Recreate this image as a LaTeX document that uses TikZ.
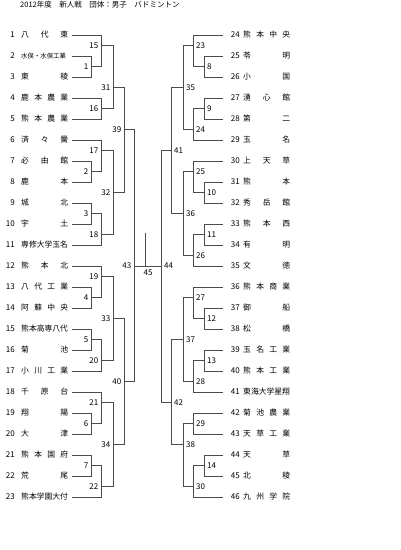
\documentclass[tikz,border=0pt]{standalone}
\usepackage{fontspec}
\setmainfont{Noto Sans CJK JP}

\newcommand*{\namebox}[1]{\makebox[47pt][s]{\spaceskip=0pt plus 1fil #1}}
\newcommand*{\xteamL}{72}
\newcommand*{\xteamR}{223}

\begin{document}
\begin{tikzpicture}
[
	x=1pt, y=-10.5pt,
	num/.style={inner sep=0pt, font=\fontsize{8}{9}\selectfont},
	team/.style={inner sep=0pt, anchor=west, font=\fontsize{7.8}{9}\selectfont},
	lbl/.style={inner sep=0pt, font=\fontsize{8}{9}\selectfont},
	bline/.style={draw=black!70, line width=0.7pt}
]
	\useasboundingbox (0,-3.3333) rectangle (400,49.0476);

	% title
	\node[anchor=west, inner sep=0pt, font=\fontsize{7.5}{9}\selectfont] (title) at (20,-2.857) {2012年度　新人戦　団体：男子　バドミントン};

	% teams, left
	\foreach \n/\nm [evaluate=\n as \k using {2*(\n-1)}] in {1/{八 代 東}, 2/{\fontsize{6.4}{7}\selectfont 水俣・水俣工業}, 3/{東 稜}, 4/{鹿 本 農 業}, 5/{熊 本 農 業}, 6/{済 々 黌}, 7/{必 由 館}, 8/{鹿 本}, 9/{城 北}, 10/{宇 土}, 11/{専修大学玉名}, 12/{熊 本 北}, 13/{八 代 工 業}, 14/{阿 蘇 中 央}, 15/{熊本高専八代}, 16/{菊 池}, 17/{小 川 工 業}, 18/{千 原 台}, 19/{翔 陽}, 20/{大 津}, 21/{熊 本 国 府}, 22/{荒 尾}, 23/{熊本学園大付}}
	{
		\node[num, anchor=east] (no\n) at (15,\k) {\n};
		\node[team] (tm\n) at (21,\k) {\namebox{\nm}};
		\coordinate (t\n) at (\xteamL,\k);
	}

	% teams, right
	\foreach \n/\nm [evaluate=\n as \k using {2*(\n-24)}] in {24/{熊 本 中 央}, 25/{苓 明}, 26/{小 国}, 27/{湧 心 館}, 28/{第 二}, 29/{玉 名}, 30/{上 天 草}, 31/{熊 本}, 32/{秀 岳 館}, 33/{熊 本 西}, 34/{有 明}, 35/{文 徳}, 36/{熊 本 商 業}, 37/{御 船}, 38/{松 橋}, 39/{玉 名 工 業}, 40/{熊 本 工 業}, 41/{東海大学星翔}, 42/{菊 池 農 業}, 43/{天 草 工 業}, 44/{天 草}, 45/{北 稜}, 46/{九 州 学 院}}
	{
		\node[num, anchor=east] (no\n) at (240,\k) {\n};
		\node[team] (tm\n) at (243,\k) {\namebox{\nm}};
		\coordinate (t\n) at (\xteamR,\k);
	}

	% matches, left
	\foreach \m/\x/\k in {1/91/3, 2/91/13, 3/91/17, 4/91/25, 5/91/29, 6/91/37, 7/91/41, 15/101/1, 16/101/7, 17/101/11, 18/101/19, 19/101/23, 20/101/31, 21/101/35, 22/101/43, 31/113/5, 32/113/15, 33/113/27, 34/113/39, 39/124/9, 40/124/33, 43/134/22}
	{
		\coordinate (m\m) at (\x,\k);
		\node[lbl, anchor=east] (lb\m) at ([xshift=-2.5pt]m\m) {\m};
	}

	% matches, right
	\foreach \m/\x/\k in {8/204/3, 9/204/7, 10/204/15, 11/204/19, 12/204/27, 13/204/31, 14/204/41, 23/193/1, 24/193/9, 25/193/13, 26/193/21, 27/193/25, 28/193/33, 29/193/37, 30/193/43, 35/183/5, 36/183/17, 37/183/29, 38/183/39, 41/171/11, 42/171/35, 44/161/22}
	{
		\coordinate (m\m) at (\x,\k);
		\node[lbl, anchor=west] (lb\m) at ([xshift=3pt]m\m) {\m};
	}

	% final
	\coordinate (m45) at (145,22);
	\coordinate (win) at (145,18.857);
	\node[lbl, anchor=north] (lb45) at ([xshift=3pt, yshift=-4pt]m45) {45};

	% bracket lines
	\foreach \a/\b in {t2/m1, t3/m1, t1/m15, m1/m15, t4/m16, t5/m16, m15/m31, m16/m31,
		t7/m2, t8/m2, t6/m17, m2/m17, t9/m3, t10/m3, m3/m18, t11/m18, m17/m32, m18/m32, m31/m39, m32/m39,
		t13/m4, t14/m4, t12/m19, m4/m19, t15/m5, t16/m5, m5/m20, t17/m20, m19/m33, m20/m33,
		t19/m6, t20/m6, t18/m21, m6/m21, t21/m7, t22/m7, m7/m22, t23/m22, m21/m34, m22/m34, m33/m40, m34/m40,
		m39/m43, m40/m43,
		t25/m8, t26/m8, t24/m23, m8/m23, t27/m9, t28/m9, m9/m24, t29/m24, m23/m35, m24/m35,
		t31/m10, t32/m10, t30/m25, m10/m25, t33/m11, t34/m11, m11/m26, t35/m26, m25/m36, m26/m36, m35/m41, m36/m41,
		t37/m12, t38/m12, t36/m27, m12/m27, t39/m13, t40/m13, m13/m28, t41/m28, m27/m37, m28/m37,
		t42/m29, t43/m29, t44/m14, t45/m14, m14/m30, t46/m30, m29/m38, m30/m38, m37/m42, m38/m42,
		m41/m44, m42/m44}
		\draw[bline] (\a) -| (\b);

	\draw[bline] (m43) -- (m44);
	\draw[bline] (m45) -- (win);

\end{tikzpicture}
\end{document}
